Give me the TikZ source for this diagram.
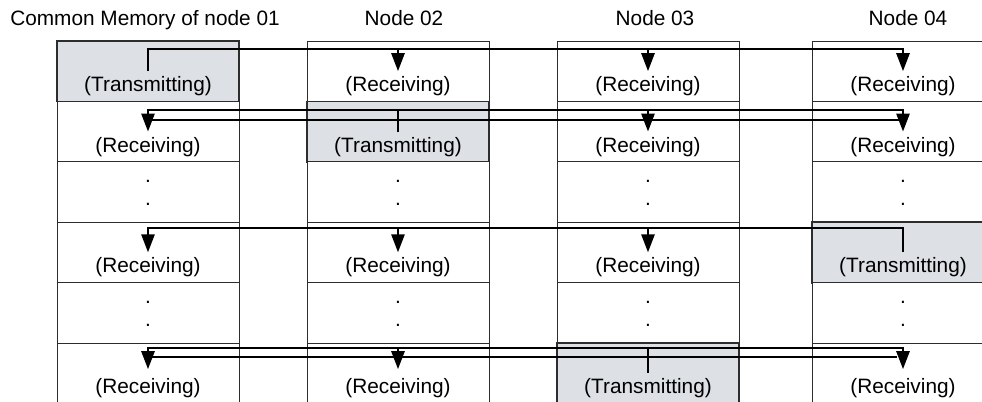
\documentclass[tikz,border=0pt]{standalone}
\usepackage{fontspec}
\setmainfont{Liberation Sans}
\usetikzlibrary{
  arrows.meta,
  positioning,
  calc
}
\definecolor{cmTx}{RGB}{221,224,229}
\definecolor{cmLine}{RGB}{45,45,45}
\newcommand{\gapdots}{\rlap{\raisebox{11.5pt}{.}}.}
\tikzset{
  memcell/.style={
    draw=cmLine,
    line width=0.5pt,
    minimum width=91pt,
    minimum height=30.2pt,
    inner sep=0pt,
    outer sep=0pt,
    text height=20.5pt,
    text depth=0pt,
    fill=white,
    font=\fontsize{10.4}{12}\selectfont
  },
  txcell/.style={
    memcell,
    fill=cmTx,
    line width=0.9pt
  },
  gapcell/.style={
    memcell,
    text height=13.8pt
  },
  heading/.style={
    anchor=base,
    inner sep=0pt,
    font=\fontsize{10.4}{12}\selectfont
  },
  busline/.style={
    line width=1.3pt,
    draw=black
  },
  busarrow/.style={
    busline,
    -{Triangle[length=9pt,width=6.5pt]}
  },
  busboth/.style={
    busline,
    {Triangle[length=9pt,width=6.5pt]}-{Triangle[length=9pt,width=6.5pt]}
  }
}

\begin{document}
\begin{tikzpicture}[x=0.5pt, y=-0.5pt, node distance=0pt]
  \useasboundingbox (0,0) rectangle (982,402);

  % node 01
  \node[txcell] (a1) at (148,71.2) {(Transmitting)};
  \node[memcell, below=of a1] (a2) {(Receiving)};
  \node[gapcell, below=of a2] (a3) {\gapdots};
  \node[memcell, below=of a3] (a4) {(Receiving)};
  \node[gapcell, below=of a4] (a5) {\gapdots};
  \node[memcell, below=of a5] (a6) {(Receiving)};

  % node 02
  \node[memcell] (b1) at (398,71.2) {(Receiving)};
  \node[txcell, below=of b1] (b2) {(Transmitting)};
  \node[gapcell, below=of b2] (b3) {\gapdots};
  \node[memcell, below=of b3] (b4) {(Receiving)};
  \node[gapcell, below=of b4] (b5) {\gapdots};
  \node[memcell, below=of b5] (b6) {(Receiving)};

  % node 03
  \node[memcell] (c1) at (648,71.2) {(Receiving)};
  \node[memcell, below=of c1] (c2) {(Receiving)};
  \node[gapcell, below=of c2] (c3) {\gapdots};
  \node[memcell, below=of c3] (c4) {(Receiving)};
  \node[gapcell, below=of c4] (c5) {\gapdots};
  \node[txcell, below=of c5] (c6) {(Transmitting)};

  % node 04
  \node[memcell] (d1) at (903,71.2) {(Receiving)};
  \node[memcell, below=of d1] (d2) {(Receiving)};
  \node[gapcell, below=of d2] (d3) {\gapdots};
  \node[txcell, below=of d3] (d4) {(Transmitting)};
  \node[gapcell, below=of d4] (d5) {\gapdots};
  \node[memcell, below=of d5] (d6) {(Receiving)};

  \node[heading] (h1) at (145,25) {Common Memory of node 01};
  \node[heading] (h2) at (404,25) {Node 02};
  \node[heading] (h3) at (655,25) {Node 03};
  \node[heading] (h4) at (908,25) {Node 04};

  \coordinate (bus1) at (0,49);
  \coordinate (bus2) at (0,110);
  \coordinate (bus2b) at (0,120);
  \coordinate (bus4) at (0,228);
  \coordinate (bus6) at (0,348);
  \coordinate (bus6b) at (0,357);

  % node 01 sends
  \draw[busarrow] (a1.center) |- (d1.center |- bus1) -- (d1.center);
  \draw[busarrow] (b1.center |- bus1) -- (b1.center);
  \draw[busarrow] (c1.center |- bus1) -- (c1.center);

  % node 02 sends
  \draw[busboth] (a2.center) |- (d2.center |- bus2) -- (d2.center);
  \draw[busline] ([xshift=2pt]a2.center |- bus2b) -- (d2.center |- bus2b);
  \draw[busline] (b2.center) -- (b2.center |- bus2);
  \draw[busarrow] (c2.center |- bus2) -- (c2.center);

  % node 04 sends
  \draw[busarrow] (d4.center) |- (a4.center |- bus4) -- (a4.center);
  \draw[busarrow] (b4.center |- bus4) -- (b4.center);
  \draw[busarrow] (c4.center |- bus4) -- (c4.center);

  % node 03 sends
  \draw[busboth] ([yshift=2pt]a6.center) |- (d6.center |- bus6) -- ([yshift=2pt]d6.center);
  \draw[busline] ([xshift=2pt]a6.center |- bus6b) -- ([xshift=-3pt]d6.center |- bus6b);
  \draw[busline] (c6.center) -- (c6.center |- bus6);
  \draw[busarrow] (b6.center |- bus6) -- ([yshift=2pt]b6.center);
\end{tikzpicture}
\end{document}
